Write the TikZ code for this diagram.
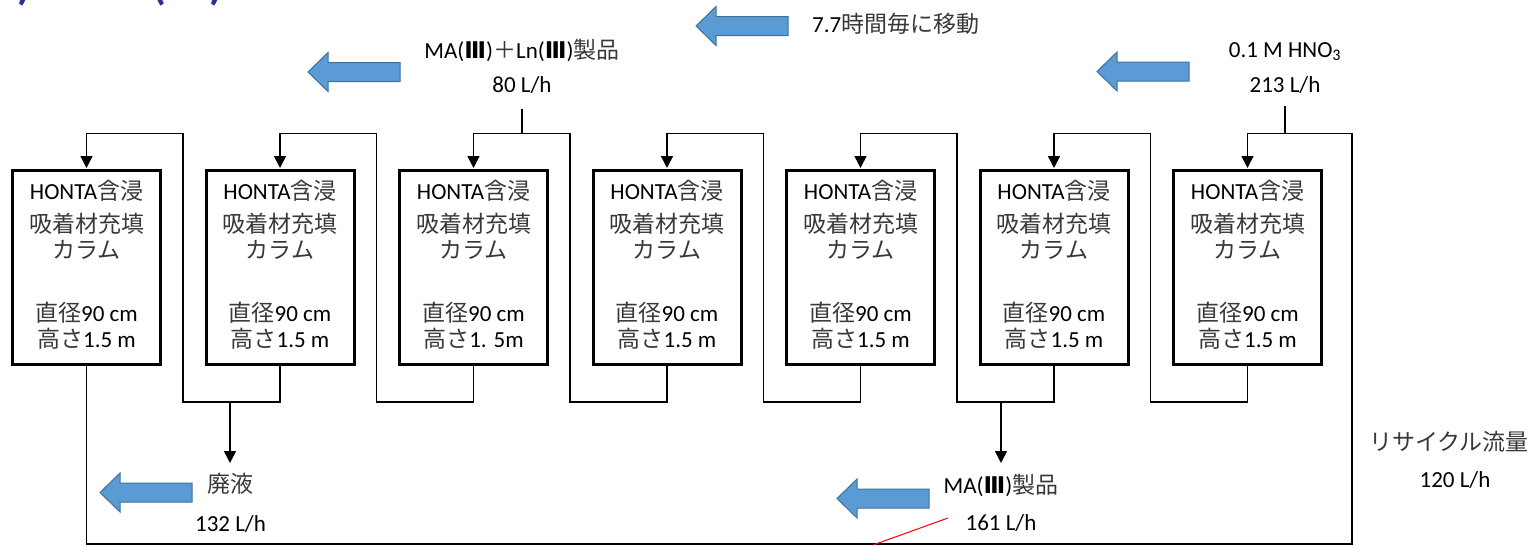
\documentclass[tikz,border=0pt]{standalone}
\usepackage{fontspec}
\setmainfont{Carlito}
\newfontfamily\jpf{Noto Sans CJK JP}
\newfontfamily\romf{DejaVu Sans}
\usetikzlibrary{arrows.meta}
\newcommand\J[1]{{\jpf\color{black!78}#1}}
\newcommand\R{{\romf\bfseries Ⅲ}}
\definecolor{arrowfill}{HTML}{5B9BD5}
\definecolor{arrowedge}{HTML}{41719C}
\definecolor{titleblue}{HTML}{2E3192}
\newcommand\coltext[1]{HONTA\J{含浸}\\[7pt]\J{吸着材充填}\\\J{カラム}\\[37pt]\J{直径}90 cm\\\J{高さ}#1}
\begin{document}
\begin{tikzpicture}[x=1pt,y=-1pt,
  column/.style={draw, line width=3pt, minimum width=148pt, minimum height=194pt, inner sep=0pt},
  coltxt/.style={align=center, inner sep=0pt, font=\fontsize{23}{26}\selectfont},
  pipe/.style={line width=1.6pt},
  flow/.style={line width=1.6pt, -{Triangle[width=12pt,length=12pt]}, shorten >=1pt},
  lab/.style={font=\fontsize{23}{26}\selectfont, inner sep=0pt, anchor=base},
  barrow/.pic={\draw[fill=arrowfill, draw=arrowedge, line width=1pt]
     (0,0) -- (20,-19.5) -- (20,-9.5) -- (92,-9.5) -- (92,9.5) -- (20,9.5) -- (20,19.5) -- cycle;}
]
\useasboundingbox (0,0) rectangle (1537,546);

% cut-off title
\begin{scope}
\clip (0,0) rectangle (1537,546);
\node[anchor=base east, inner sep=0pt, text=titleblue, font=\fontsize{44}{50}\selectfont\bfseries] (t1) at (31,-1) {1)};
\node[anchor=base west, inner sep=0pt, text=titleblue, font=\fontsize{44}{50}\selectfont\bfseries] (t2) at (152,-1) {({\jpf Ⅲ})};
\node[anchor=base west, inner sep=0pt, text=titleblue, font=\fontsize{40}{50}\selectfont\bfseries] (t3) at (242,-4) {{\jpf 分離}};
\end{scope}

% columns
\foreach \i/\x in {1/86.5,2/280,3/473.5,4/667,5/860.5,6/1054,7/1247.5} {
  \node[column] (b\i) at (\x,267.5) {};
}
\foreach \i/\x in {1/86.5,2/280,4/667,5/860.5,6/1054,7/1247.5} {
  \node[coltxt] (c\i) at (\x,264.5) {\coltext{1.5 m}};
}
\node[coltxt] (c3) at (473.5,264.5) {\coltext{1. 5m}};

% connections between columns
\foreach \i/\r in {1/183,2/376.5,3/570,4/763.5,5/957,6/1150.5} {
  \pgfmathtruncatemacro\j{\i+1}
  \coordinate (rb\i) at (\r,402);
  \coordinate (rt\i) at (\r,133.5);
  \draw[flow] (b\j.south) |- (rb\i) -- (rt\i) -| (b\i.north);
}

% recycle
\coordinate (rc1) at (86.5,544);
\coordinate (rc2) at (1352,544);
\coordinate (rc3) at (1352,133.5);
\draw[flow] (b1.south) -- (rc1) -- (rc2) -- (rc3) -| (b7.north);

% branches
\coordinate (w0) at (230,402);
\coordinate (w1) at (230,463);
\draw[flow, shorten >=0pt] (w0) -- (w1);
\coordinate (m0) at (1001,402);
\coordinate (m1) at (1001,463);
\draw[flow, shorten >=0pt] (m0) -- (m1);
\coordinate (p0) at (522,133.5);
\coordinate (p1) at (522,109);
\draw[pipe] (p0) -- (p1);
\coordinate (h0) at (1285,133.5);
\coordinate (h1) at (1285,106);
\draw[pipe] (h0) -- (h1);

% labels
\node[lab] (mln) at (522,58) {MA(\R)\J{＋}Ln(\R)\J{製品}};
\node[lab] (mlnr) at (522,92) {80 L/h};
\node[lab, anchor=base west] (move) at (812,32) {7.7\J{時間毎に移動}};
\node[lab] (hno) at (1285,57) {0.1 M HNO\textsubscript{3}};
\node[lab] (hnor) at (1285,92) {213 L/h};
\node[lab] (waste) at (230,492) {\J{廃液}};
\node[lab] (waster) at (230.5,531) {132 L/h};
\node[lab] (ma) at (1001,493) {MA(\R)\J{製品}};
\node[lab] (mar) at (1001,530) {161 L/h};
\node[lab] (rec) at (1449,450) {\J{リサイクル流量}};
\node[lab] (recr) at (1455,487) {120 L/h};

% block arrows
\pic at (308,72) {barrow};
\pic at (696,26) {barrow};
\pic at (1097,71.5) {barrow};
\pic at (100,492.5) {barrow};
\pic at (837,498.5) {barrow};

% red stroke
\coordinate (r0) at (873,545);
\coordinate (r1) at (948,518);
\draw[red, line width=1pt] (r0) -- (r1);
\end{tikzpicture}
\end{document}
